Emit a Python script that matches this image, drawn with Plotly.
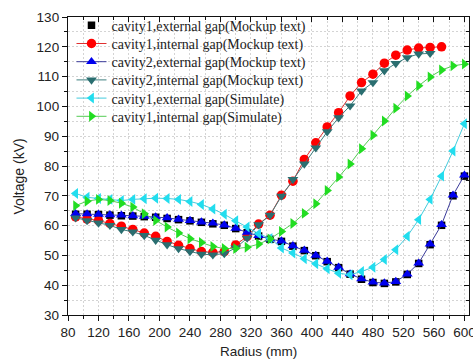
import plotly.graph_objects as go

radius = [90, 105, 120, 135, 150, 165, 180, 195, 210, 225, 240, 255, 270, 285, 300,
          315, 330, 345, 360, 375, 390, 405, 420, 435, 450, 465, 480, 495, 510, 525,
          540, 555, 570, 585, 600]

c1_ext_mock = [63.8, 63.8, 63.7, 63.5, 63.3, 63.2, 63.0, 62.8, 62.4, 62.0, 61.6, 61.1,
               60.6, 60.1, 59.0, 57.6, 56.5, 55.4, 54.7, 53.1, 51.6, 49.9, 47.9, 45.9,
               43.7, 42.0, 40.9, 40.6, 41.1, 43.6, 47.3, 53.6, 60.1, 70.0, 76.6]
c1_int_mock = [62.9, 62.2, 61.7, 60.7, 59.8, 58.7, 57.5, 56.4, 54.7, 53.4, 52.3, 51.3,
               51.0, 51.3, 53.5, 56.4, 60.5, 63.5, 70.2, 74.9, 82.2, 87.8, 93.1, 97.9,
               103.5, 108.0, 110.8, 114.5, 117.2, 118.9, 119.6, 119.8, 120.0]
c2_ext_mock = [64.0, 63.9, 63.8, 63.6, 63.5, 63.3, 63.1, 62.9, 62.6, 62.1, 61.7, 61.2,
               60.8, 60.2, 59.1, 57.7, 56.6, 55.5, 54.8, 53.2, 51.7, 50.0, 48.0, 46.0,
               43.8, 42.1, 41.0, 40.7, 41.2, 43.7, 47.4, 53.8, 60.3, 70.2, 76.9]
c2_int_mock = [62.6, 61.7, 60.9, 60.1, 58.7, 57.9, 56.7, 55.1, 53.6, 52.3, 51.3, 50.4,
               50.2, 50.6, 52.5, 55.8, 60.3, 63.5, 69.9, 75.5, 80.7, 86.1, 91.5, 96.2,
               100.2, 105.2, 108.0, 112.0, 114.4, 116.4, 117.6, 117.8]
c1_ext_sim = [70.8, 69.5, 69.1, 68.8, 68.4, 68.8, 69.0, 69.2, 69.1, 68.8, 68.1, 67.1,
              65.6, 63.8, 61.6, 59.5, 57.3, 55.7, 52.5, 50.8, 48.9, 47.2, 45.5, 44.0,
              43.5, 44.6, 46.0, 48.6, 51.9, 56.4, 62.0, 68.8, 76.6, 85.0, 94.2]
c1_int_sim = [66.7, 68.2, 68.8, 68.4, 67.5, 66.2, 64.0, 61.7, 59.5, 57.5, 55.6, 54.3,
              53.0, 52.3, 52.3, 52.7, 53.8, 55.5, 58.0, 60.7, 64.1, 67.3, 71.8, 76.3,
              80.7, 85.8, 90.3, 95.1, 99.4, 103.5, 106.9, 109.9, 112.2, 113.6, 114.2]

names = ["cavity1,external gap(Mockup text)", "cavity1,internal gap(Mockup text)",
         "cavity2,external gap(Mockup text)", "cavity2,internal gap(Mockup text)",
         "cavity1,external gap(Simulate)", "cavity1,internal gap(Simulate)"]

legend_ids = ["legend", "legend2", "legend3", "legend4", "legend5", "legend6"]

fig = go.Figure()

fig.add_trace(go.Scatter(x=radius[:len(c1_ext_mock)], y=c1_ext_mock, name=names[0],
                         legend=legend_ids[0],
                         mode="markers", marker=dict(symbol="square", size=7.5, color="#000000")))
fig.add_trace(go.Scatter(x=radius[:len(c1_int_mock)], y=c1_int_mock, name=names[1],
                         legend=legend_ids[1],
                         mode="lines+markers", line=dict(color="#e03030", width=1),
                         marker=dict(symbol="circle", size=9.5, color="#ff0000")))
fig.add_trace(go.Scatter(x=radius[:len(c2_ext_mock)], y=c2_ext_mock, name=names[2],
                         legend=legend_ids[2],
                         mode="lines+markers", line=dict(color="#3a3a9a", width=1),
                         marker=dict(symbol="triangle-up", size=9.5, color="#0000ee")))
fig.add_trace(go.Scatter(x=radius[:len(c2_int_mock)], y=c2_int_mock, name=names[3],
                         legend=legend_ids[3],
                         mode="lines+markers", line=dict(color="#3f7f7f", width=1),
                         marker=dict(symbol="triangle-down", size=9.5, color="#2a6e70")))
fig.add_trace(go.Scatter(x=radius[:len(c1_ext_sim)], y=c1_ext_sim, name=names[4],
                         legend=legend_ids[4],
                         mode="lines+markers", line=dict(color="#44ccdd", width=1),
                         marker=dict(symbol="triangle-left", size=9.5, color="#22ddee")))
fig.add_trace(go.Scatter(x=radius[:len(c1_int_sim)], y=c1_int_sim, name=names[5],
                         legend=legend_ids[5],
                         mode="lines+markers", line=dict(color="#55cc55", width=1),
                         marker=dict(symbol="triangle-right", size=9.5, color="#22dd22")))

# helper trace so the mirrored (top/right) axes with inward ticks are drawn
fig.add_trace(go.Scatter(x=[None], y=[None], xaxis="x2", yaxis="y2", showlegend=False,
                         hoverinfo="skip", mode="markers"))

grid = dict(gridcolor="#d4d4d4", griddash="2px,2px", gridwidth=1)
tickfont = dict(family="Liberation Sans, Arial, sans-serif", size=13.5, color="#222222")
legfont = dict(family="Liberation Serif, Times New Roman, serif", size=14, color="#222222")

# one single-entry legend per row, so the row pitch matches the reference
row_top = 0.9708
row_pitch = 18.2 / 298.0
legends = {}
for i, lid in enumerate(legend_ids):
    legends[lid] = dict(x=0.0087, y=row_top - i * row_pitch, xanchor="left", yanchor="middle",
                        bgcolor="rgba(0,0,0,0)", borderwidth=0, font=legfont, itemwidth=30)

fig.update_layout(
    width=473, height=363,
    margin=dict(l=67.5, r=4, t=17, b=48),
    paper_bgcolor="white", plot_bgcolor="white",
    showlegend=True,
    xaxis=dict(range=[80, 606], tick0=80, dtick=40, showline=True, linecolor="#111111",
               linewidth=1.3, ticks="outside", ticklen=5, tickcolor="#111111",
               tickfont=tickfont, showgrid=True, zeroline=False, ticklabeloverflow="allow",
               automargin=False, **grid,
               minor=dict(dtick=20, tick0=80, ticks="outside", ticklen=3, tickcolor="#111111",
                          showgrid=True, gridcolor="#d4d4d4", griddash="2px,2px")),
    yaxis=dict(range=[30, 130], tick0=30, dtick=10, showline=True, linecolor="#111111",
               linewidth=1.3, ticks="outside", ticklen=5, tickcolor="#111111",
               tickfont=tickfont, showgrid=True, zeroline=False, automargin=False, **grid,
               minor=dict(dtick=5, tick0=30, ticks="outside", ticklen=3, tickcolor="#111111",
                          showgrid=True, gridcolor="#d4d4d4", griddash="2px,2px")),
    xaxis2=dict(range=[80, 606], overlaying="x", side="top", tick0=80, dtick=40,
                showline=True, linecolor="#111111", linewidth=1.3, ticks="inside",
                ticklen=5, tickcolor="#111111", showticklabels=False, showgrid=False,
                zeroline=False, automargin=False,
                minor=dict(dtick=20, tick0=80, ticks="inside", ticklen=3, tickcolor="#111111")),
    yaxis2=dict(range=[30, 130], overlaying="y", side="right", tick0=30, dtick=10,
                showline=True, linecolor="#111111", linewidth=1.3, ticks="inside",
                ticklen=5, tickcolor="#111111", showticklabels=False, showgrid=False,
                zeroline=False, automargin=False,
                minor=dict(dtick=5, tick0=30, ticks="inside", ticklen=3, tickcolor="#111111")),
    annotations=[
        dict(text="Radius (mm)", xref="paper", yref="paper", x=0.4745, y=-0.124,
             xanchor="center", yanchor="middle", showarrow=False,
             font=dict(family="Liberation Sans, Arial, sans-serif", size=13.5, color="#222222")),
        dict(text="Voltage (kV)", xref="paper", yref="paper", x=-0.121, y=0.466,
             xanchor="center", yanchor="middle", showarrow=False, textangle=-90,
             font=dict(family="Liberation Sans, Arial, sans-serif", size=14, color="#222222")),
    ],
    **legends,
)

fig.write_html("out.html", config={"displayModeBar": False},
               post_script="document.body.style.margin='0px';document.body.style.overflow='hidden';")
